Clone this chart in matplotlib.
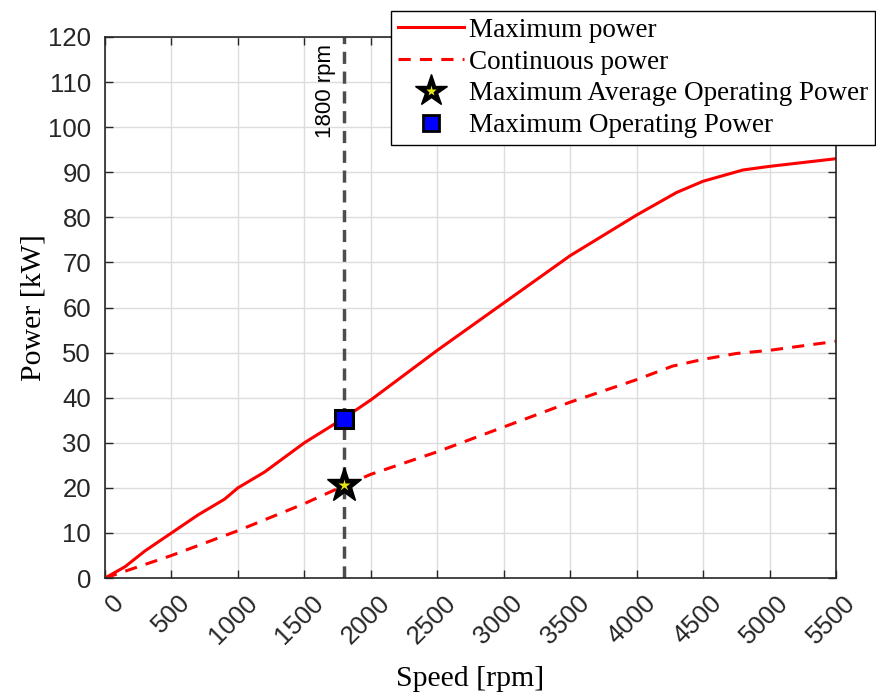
import numpy as np
import matplotlib.pyplot as plt
import matplotlib.transforms as mtransforms
from matplotlib.lines import Line2D

# Motor power envelope vs speed
speed_max = [0, 150, 300, 500, 700, 900, 1000, 1200, 1500, 1800, 2000, 2500,
             3000, 3500, 4000, 4300, 4500, 4800, 5000, 5500]
power_max = [0, 2.5, 6, 10, 14, 17.5, 20, 23.5, 30, 35.5, 39.5, 50.5,
             61, 71.5, 80.5, 85.5, 88, 90.5, 91.3, 93]

speed_cont = [0, 500, 1000, 1500, 1800, 2000, 2500, 3000, 3500, 4000, 4270,
              4500, 4750, 5000, 5500]
power_cont = [0, 5, 10.5, 16.5, 20.5, 23, 28, 33.5, 39, 44, 47, 48.5,
              49.8, 50.5, 52.5]

op_speed = 1800
avg_op_power = 20.7
max_op_power = 35.2

xticks = np.arange(0, 5501, 500)
yticks = np.arange(0, 121, 10)

sans = ['Liberation Sans', 'DejaVu Sans']
serif = ['Liberation Serif', 'DejaVu Serif']

fig = plt.figure(figsize=(8.76, 6.95), dpi=100)
ax = fig.add_axes([0.1199, 0.1683, 0.8344, 0.7785])

ax.plot(speed_max, power_max, color='red', lw=2.2, label='Maximum power')
ax.plot(speed_cont, power_cont, color='red', lw=2.2, ls=(0, (4, 3)),
        label='Continuous power')
ax.axvline(op_speed, color='#4d4d4d', lw=2.5, ls=(0, (3.5, 2.2)))
ax.text(op_speed - 65, 118.5, '1800 rpm', rotation=90, ha='right', va='top',
        fontsize=16, family=sans, color='black')

ax.plot(op_speed, max_op_power, 's', ms=13, mfc='blue', mec='black', mew=2.2,
        zorder=5)
# black star with a small yellow core
ax.plot(op_speed, avg_op_power, '*', ms=26, mfc='black', mec='black', mew=1,
        zorder=5)
ax.plot(op_speed, avg_op_power, '*', ms=9, mfc='#e6e619', mec='none', zorder=6)

ax.set_xlim(0, 5500)
ax.set_ylim(0, 120)
ax.set_xticks(xticks)
ax.set_yticks(yticks)
ax.grid(True, color='#dcdcdc', lw=1)
ax.set_axisbelow(True)
ax.tick_params(direction='in', top=True, right=True, length=6, width=1,
               labelsize=18.5, colors='#262626')
ax.tick_params(axis='y', pad=10)
ax.tick_params(axis='x', pad=9)
shift = mtransforms.ScaledTranslation(5 / 72, 0, fig.dpi_scale_trans)
for lab in ax.get_xticklabels():
    lab.set_rotation(45)
    lab.set_ha('right')
    lab.set_rotation_mode('anchor')
    lab.set_transform(lab.get_transform() + shift)
for lab in ax.get_xticklabels() + ax.get_yticklabels():
    lab.set_family(sans)
for sp in ax.spines.values():
    sp.set_color('#262626')
    sp.set_linewidth(1.2)

ax.set_xlabel('Speed [rpm]', fontsize=21.5, family=serif, labelpad=13)
ax.set_ylabel('Power [kW]', fontsize=21.5, family=serif, labelpad=1)

handles = [
    Line2D([], [], color='red', lw=2.2),
    Line2D([], [], color='red', lw=2.2, ls=(0, (4, 3))),
    Line2D([], [], marker='*', ls='none', ms=24, mfc='black', mec='black', mew=1),
    Line2D([], [], marker='s', ls='none', ms=12, mfc='blue', mec='black', mew=2),
]
labels = ['Maximum power', 'Continuous power',
          'Maximum Average Operating Power', 'Maximum Operating Power']
leg = fig.legend(handles, labels, loc='upper right',
                 bbox_to_anchor=(875 / 876, 1 - 11 / 695),
                 prop={'family': serif, 'size': 19.5}, frameon=True,
                 fancybox=False, edgecolor='black', framealpha=1,
                 handlelength=2.45, handletextpad=0.18, labelspacing=0.25,
                 borderpad=0.25, borderaxespad=0)
leg.get_frame().set_linewidth(1)

# yellow core on the legend star
fig.canvas.draw()
star_handle = leg.legend_handles[2]
bbox = star_handle.get_window_extent(fig.canvas.get_renderer())
cx, cy = fig.transFigure.inverted().transform(
    ((bbox.x0 + bbox.x1) / 2, (bbox.y0 + bbox.y1) / 2))
fig.add_artist(Line2D([cx], [cy], marker='*', ms=8, mfc='#e6e619', mec='none',
                      transform=fig.transFigure, zorder=10))

fig.savefig('out.png', dpi=100)
